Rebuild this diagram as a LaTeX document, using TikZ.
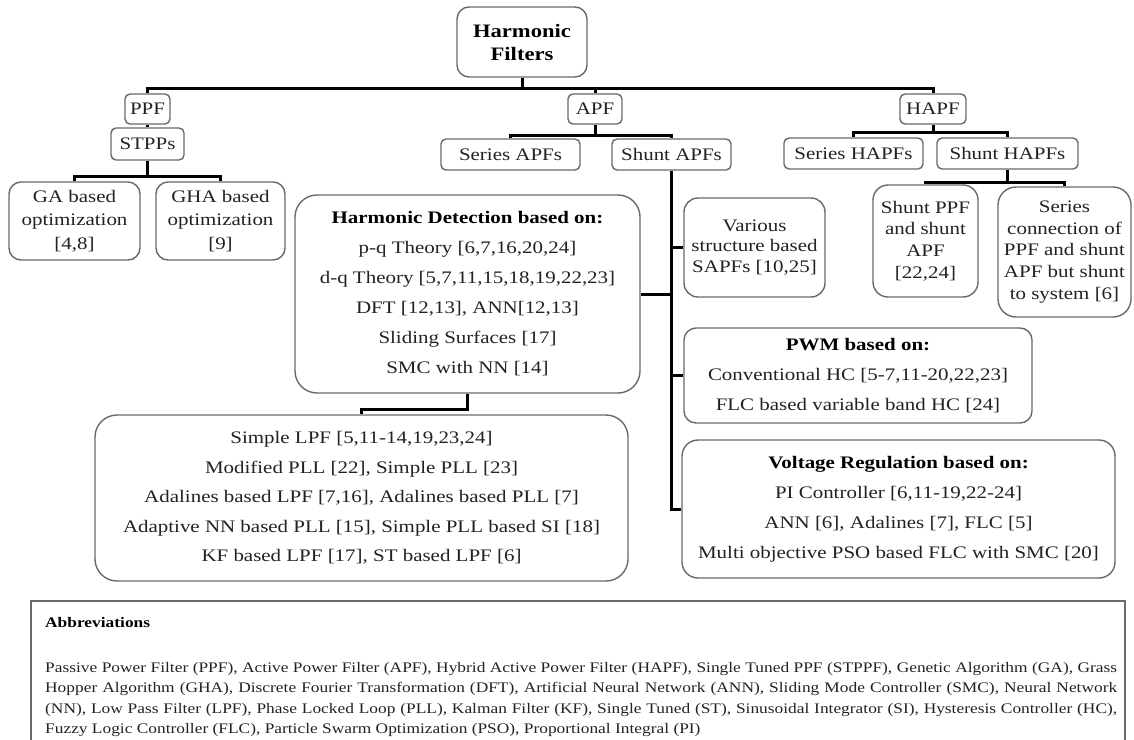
\documentclass[tikz,border=0pt]{standalone}
\usepackage{fontspec}
\setmainfont{Liberation Serif}[FakeStretch=1.19]
\definecolor{bdr}{RGB}{105,105,105}
\definecolor{txt}{RGB}{34,34,34}
\newcommand{\fmain}[1]{\fontsize{17.6}{#1}\selectfont}
\begin{document}
\begin{tikzpicture}[x=1pt,y=-1pt,
  box/.style={draw=bdr, line width=1.4pt, rounded corners=#1, fill=white, align=center, inner sep=0pt, text=txt},
  box/.default=6pt,
  conn/.style={line width=3pt, draw=black},
  bt/.style={font={\fmain{21}}}
]
\useasboundingbox (0,0) rectangle (1134,739);
% bus levels
\coordinate (b1) at (0,88);
\coordinate (b2) at (0,176);
\coordinate (b3) at (0,135);
\coordinate (b4) at (0,132.5);
\coordinate (b5) at (0,182);
\coordinate (b6) at (0,409);

% nodes
\node[box=12pt, minimum width=130pt, minimum height=70pt, text=black, font={\fontsize{19}{23}\selectfont\bfseries}] (hf) at (522,42) {Harmonic\\Filters};
\node[box=5pt, bt, minimum width=45pt, minimum height=30pt] (ppf) at (147.5,109) {PPF};
\node[box=5pt, bt, minimum width=73pt, minimum height=32pt] (stpp) at (147.5,144) {STPPs};
\node[box=12pt, font={\fmain{23.5}}, minimum width=131pt, minimum height=78pt] (ga) at (74.5,221) {GA based\\optimization\\{[4,8]}};
\node[box=12pt, font={\fmain{23.5}}, minimum width=129pt, minimum height=78pt] (gha) at (220.5,221) {GHA based\\optimization\\{[9]}};
\node[box=5pt, bt, minimum width=54pt, minimum height=30pt] (apf) at (595,109) {APF};
\node[box=5pt, bt, minimum width=139pt, minimum height=31pt] (sapf) at (510.5,154.5) {Series APFs};
\node[box=5pt, bt, minimum width=119pt, minimum height=31pt] (shapf) at (671.5,154.5) {Shunt APFs};
\node[box=5pt, bt, minimum width=66pt, minimum height=30pt] (hapf) at (933,109) {HAPF};
\node[box=5pt, bt, minimum width=139pt, minimum height=31pt] (shapfs) at (853.5,153.5) {Series HAPFs};
\node[box=5pt, bt, minimum width=141pt, minimum height=31pt] (shhapf) at (1007.5,153.5) {Shunt HAPFs};
\node[box=15pt, font={\fmain{21.7}}, minimum width=105pt, minimum height=112pt] (sppf) at (925.5,241) {Shunt PPF\\and shunt\\APF\\{[22,24]}};
\node[box=18pt, font={\fmain{21.7}}, minimum width=133pt, minimum height=130pt] (scon) at (1064.5,252) {Series\\connection of\\PPF and shunt\\APF but shunt\\to system [6]};
\node[box=14pt, font={\fmain{20.5}}, minimum width=141pt, minimum height=99pt] (var) at (754.5,247.5) {Various\\structure based\\SAPFs [10,25]};
\node[box=22pt, font={\fmain{30}}, minimum width=345pt, minimum height=198pt] (hd) at (467.5,294) {{\color{black}\bfseries Harmonic Detection based on:}\\p-q Theory [6,7,16,20,24]\\d-q Theory [5,7,11,15,18,19,22,23]\\DFT [12,13], ANN[12,13]\\Sliding Surfaces [17]\\SMC with NN [14]};
\node[box=12pt, font={\fmain{30}}, minimum width=348pt, minimum height=95pt] (pwm) at (858,375.5) {{\color{black}\bfseries PWM based on:}\\Conventional HC [5-7,11-20,22,23]\\FLC based variable band HC [24]};
\node[box=16pt, font={\fmain{30}}, minimum width=433pt, minimum height=138pt] (volt) at (898.5,509) {{\color{black}\bfseries Voltage Regulation based on:}\\PI Controller [6,11-19,22-24]\\ANN [6], Adalines [7], FLC [5]\\Multi objective PSO based FLC with SMC [20]};
\node[box=22pt, font={\fmain{29.5}}, minimum width=533pt, minimum height=166pt] (lpf) at (361.5,498) {Simple LPF [5,11-14,19,23,24]\\Modified PLL [22], Simple PLL [23]\\Adalines based LPF [7,16], Adalines based PLL [7]\\Adaptive NN based PLL [15], Simple PLL based SI [18]\\KF based LPF [17], ST based LPF [6]};

% connectors
\draw[conn] (hf.south) -- (hf.south |- b1);
\draw[conn] (ppf.north) |- (hapf.north |- b1) -- (hapf.north);
\draw[conn] (apf.north) -- (apf.north |- b1);
\draw[conn] (ppf.south) -- (stpp.north);
\draw[conn] (stpp.south) -- (stpp.south |- b2);
\draw[conn] (ga.north) |- (gha.north |- b2) -- (gha.north);
\draw[conn] (apf.south) -- (apf.south |- b3);
\draw[conn] (sapf.north) |- (shapf.north |- b3) -- (shapf.north);
\draw[conn] (hapf.south) -- (hapf.south |- b4);
\draw[conn] (shapfs.north) |- (shhapf.north |- b4) -- (shhapf.north);
\draw[conn] (shhapf.south) -- (shhapf.south |- b5);
\draw[conn] (sppf.north) |- (scon.north |- b5) -- (scon.north);
\draw[conn] (shapf.south) |- (volt.west);
\draw[conn] (shapf.south |- var.west) -- (var.west);
\draw[conn] (shapf.south |- hd.east) -- (hd.east);
\draw[conn] (shapf.south |- pwm.west) -- (pwm.west);
\draw[conn] (hd.south) -- (hd.south |- b6) -| (lpf.north);

% abbreviations
\draw[line width=1.8pt, draw=bdr] (31,745) -- (31,601) -- (1125,601) -- (1125,745);
\node[anchor=north west, inner sep=0pt, align=left, text=txt, font={\fontsize{14.6}{20.3}\selectfont}] (abbr) at (45,617) {{\color{black}\bfseries Abbreviations}\\[25pt]
\makebox[1072pt][s]{Passive Power Filter (PPF), Active Power Filter (APF), Hybrid Active Power Filter (HAPF), Single Tuned PPF (STPPF), Genetic Algorithm (GA), Grass}\\
\makebox[1072pt][s]{Hopper Algorithm (GHA), Discrete Fourier Transformation (DFT), Artificial Neural Network (ANN), Sliding Mode Controller (SMC), Neural Network}\\
\makebox[1072pt][s]{(NN), Low Pass Filter (LPF), Phase Locked Loop (PLL), Kalman Filter (KF), Single Tuned (ST), Sinusoidal Integrator (SI), Hysteresis Controller (HC),}\\
Fuzzy Logic Controller (FLC), Particle Swarm Optimization (PSO), Proportional Integral (PI)};
\end{tikzpicture}
\end{document}
